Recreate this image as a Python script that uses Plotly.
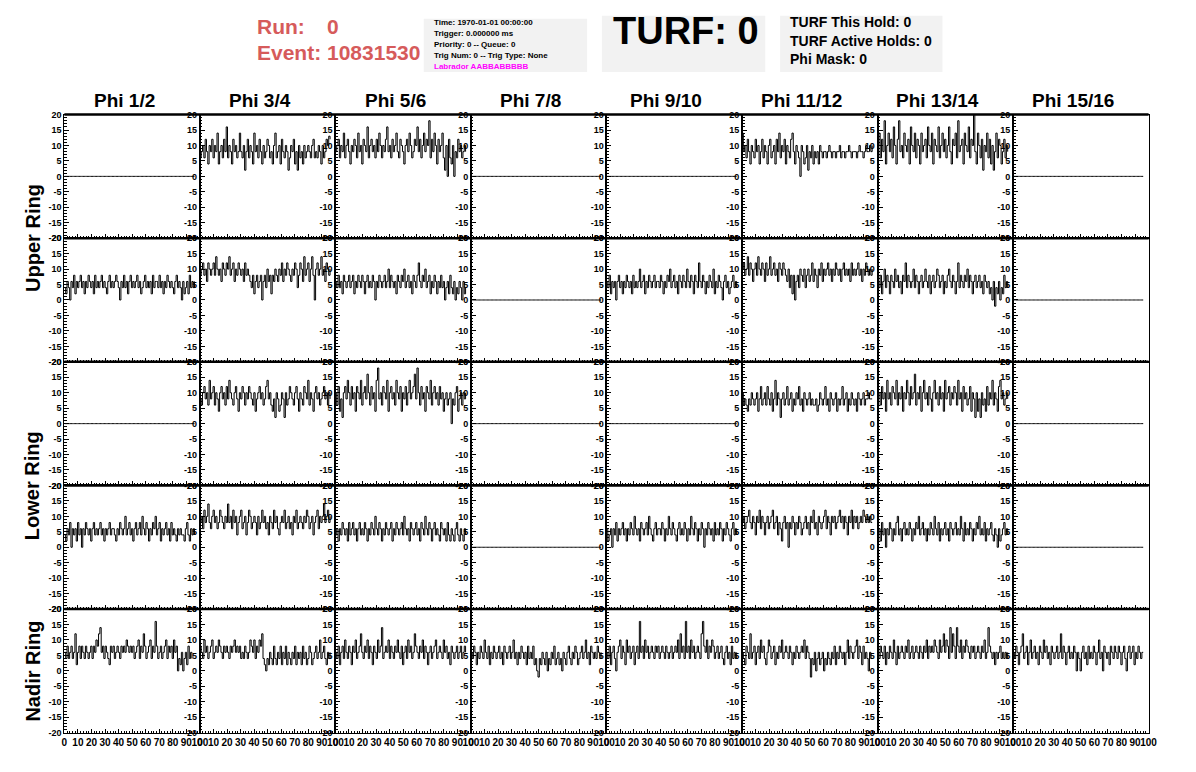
import plotly.graph_objects as go

W, H = 1196, 772

# ---------------- labels ----------------
phi_labels = ["Phi 1/2", "Phi 3/4", "Phi 5/6", "Phi 7/8",
              "Phi 9/10", "Phi 11/12", "Phi 13/14", "Phi 15/16"]
ring_labels = ["Upper Ring", "Lower Ring", "Nadir Ring"]
run_text = "Run:"
run_value = "0"
event_text = "Event: 10831530"
info_lines = ["Time: 1970-01-01 00:00:00", "Trigger: 0.000000 ms",
              "Priority: 0 -- Queue: 0", "Trig Num: 0 -- Trig Type: None"]
labrador_line = "Labrador AABBABBBBB"
turf_text = "TURF: 0"
turf_lines = ["TURF This Hold: 0", "TURF Active Holds: 0", "Phi Mask: 0"]

y_tick_values = [-20, -15, -10, -5, 0, 5, 10, 15, 20]
x_tick_values = [0, 10, 20, 30, 40, 50, 60, 70, 80, 90, 100]

sample_period = 0.97   # ns per sample (x axis 0-100)

# ---------------- waveforms (mV) ----------------
flat = [0] * 100

u1_p34 = [6,8,10,6,12,8,4,10,8,12,6,10,8,14,4,8,10,6,12,8,16,6,10,8,4,12,8,10,6,8,14,8,6,10,2,8,12,6,10,8,4,14,8,10,6,12,8,4,10,6,8,12,10,6,8,4,10,14,6,8,10,4,12,8,6,10,8,2,6,10,8,12,4,8,2,10,6,8,4,10,6,8,10,8,6,10,12,6,8,6,10,8,4,10,6,8,12,10,13,12]
u1_p56 = [8,10,12,6,10,8,14,6,10,12,8,4,10,8,12,10,6,14,8,10,4,12,10,8,16,6,10,12,8,10,6,12,8,14,10,6,10,8,12,16,8,10,6,12,8,10,14,8,6,12,10,8,4,10,12,8,14,10,6,8,12,10,16,8,12,6,10,14,8,12,10,18,6,12,8,14,10,4,12,8,10,14,6,2,10,0,12,6,4,10,0,8,6,12,8,10,6,8,10,8]
u1_p1112 = [14,8,10,6,12,8,4,10,8,6,12,8,10,4,8,12,6,10,8,4,10,12,6,8,10,4,12,8,14,6,10,8,12,4,10,8,6,12,14,8,4,10,8,6,0,10,8,4,6,10,2,8,6,10,4,8,6,8,4,10,8,6,8,8,6,8,10,8,6,8,8,6,8,8,10,6,8,8,6,8,8,10,8,6,8,8,8,6,8,10,8,8,6,8,10,8,8,10,8,10]
u1_p1314 = [10,14,6,12,8,18,4,10,14,8,12,6,16,10,4,12,18,8,10,6,14,10,8,12,4,16,10,8,14,6,12,10,4,14,8,10,12,6,16,10,8,14,4,12,10,8,16,6,10,14,8,12,6,10,16,8,4,12,10,14,6,18,8,10,12,4,14,10,8,16,6,12,10,20,8,4,14,10,6,12,2,10,8,14,6,12,4,10,2,8,14,6,12,10,4,8,12,6,10,8]

u2_p12 = [4,2,6,4,0,6,4,8,2,6,4,6,8,4,6,2,6,4,8,6,4,6,2,8,4,6,4,6,8,4,6,4,2,6,8,4,6,4,6,8,6,4,0,6,4,8,4,6,2,6,8,4,6,4,6,8,4,6,2,4,6,8,4,6,4,6,2,8,4,6,6,4,8,4,6,2,6,4,8,6,4,6,4,2,6,8,4,6,4,0,6,2,4,6,2,8,4,6,4,6]
u2_p34 = [8,10,12,8,10,6,12,10,8,10,12,8,14,10,8,10,6,12,10,8,12,10,14,8,10,12,6,10,8,12,10,8,10,6,12,8,10,8,6,4,8,2,6,8,4,6,8,0,6,8,4,10,6,8,2,8,6,10,8,6,10,8,12,6,10,8,12,10,8,6,10,8,12,10,4,8,12,10,6,14,8,10,12,6,10,14,8,0,10,12,8,10,14,8,10,6,12,10,8,10]
u2_p56 = [6,4,8,4,6,2,8,6,4,6,8,4,6,8,2,6,4,8,6,4,8,6,2,6,8,4,6,4,8,6,0,6,4,8,6,4,6,8,4,6,10,4,8,6,4,6,2,8,6,4,8,6,10,4,6,8,4,6,2,8,6,4,8,12,6,4,8,6,10,4,6,8,2,6,4,8,6,2,6,4,8,4,6,0,4,6,2,8,4,2,6,0,4,2,6,4,0,6,2,4]
u2_p910 = [6,4,8,2,6,4,6,0,6,8,4,6,2,6,4,8,6,4,6,2,8,4,6,4,6,10,4,6,8,2,6,4,8,6,4,6,8,4,6,6,4,8,6,2,6,4,8,6,10,4,6,8,4,6,2,8,6,4,8,6,4,10,6,4,8,6,2,8,6,4,12,6,4,8,6,2,6,4,8,6,4,10,2,6,4,8,6,4,0,6,8,4,6,2,4,6,8,4,6,4]
u2_p1112 = [10,12,8,10,14,8,12,10,6,10,12,8,14,10,8,12,10,6,12,8,10,14,8,10,12,8,10,6,12,10,8,12,10,8,6,10,4,8,2,8,0,6,8,4,10,8,6,10,4,8,10,6,8,12,6,10,8,4,10,8,12,6,10,8,10,12,8,10,6,10,8,12,10,8,10,6,10,12,8,10,8,10,6,12,8,10,8,10,12,8,10,6,10,8,12,10,8,10,8,10]
u2_p1314 = [6,4,8,2,6,10,4,8,6,2,8,6,4,10,6,8,4,6,2,8,6,12,4,8,6,4,6,10,4,8,6,2,6,8,4,6,10,6,4,8,2,6,8,4,6,10,8,4,6,8,2,6,4,8,10,6,4,8,6,2,6,12,4,8,6,4,8,6,10,4,8,6,2,6,8,4,6,8,4,6,2,8,6,4,6,2,4,0,6,-2,4,2,6,0,4,2,8,4,6,4]

l1_p34 = [8,6,10,12,8,10,6,14,8,10,12,6,10,8,4,10,12,8,10,6,12,8,14,10,8,6,10,12,8,4,10,8,12,10,6,10,8,12,10,8,6,10,4,8,10,12,8,10,6,8,12,14,8,10,6,4,8,2,10,8,4,6,10,8,2,10,6,8,12,10,8,6,10,12,8,4,10,8,6,12,10,8,14,6,10,8,4,10,12,8,10,6,8,10,12,8,10,6,10,8]
l1_p56 = [10,6,12,4,8,2,10,12,8,14,10,6,12,8,10,4,12,10,8,14,6,10,12,8,16,10,6,12,8,10,4,14,18,8,10,6,12,10,8,14,4,10,12,8,10,6,14,10,8,12,4,10,8,12,6,10,14,8,10,12,16,8,18,10,6,12,8,10,4,12,10,8,14,6,10,12,8,10,6,12,8,10,4,8,10,6,8,10,0,8,6,10,12,4,8,10,6,10,8,10]
l1_p1112 = [10,6,8,6,4,8,6,10,8,6,8,10,4,8,12,6,8,10,6,12,8,6,10,4,8,14,6,10,8,2,8,10,6,8,12,6,8,10,4,8,6,10,8,12,6,8,4,10,8,6,8,10,6,8,6,6,8,4,6,10,8,6,8,12,6,8,4,10,8,6,8,10,4,8,6,8,12,6,8,10,4,8,6,10,8,6,8,4,10,8,6,8,10,6,8,8,10,8,8,8]
l1_p1314 = [8,10,6,12,8,10,4,14,8,10,6,12,10,8,14,6,10,8,12,4,10,8,14,10,6,12,8,10,16,6,10,8,12,4,10,14,8,10,6,12,8,4,10,14,8,10,6,12,8,10,4,14,8,10,12,6,10,8,12,10,6,14,8,10,4,12,8,10,6,8,12,4,10,8,2,10,4,8,2,10,6,8,4,12,6,10,8,14,6,10,8,4,12,14,8,10,6,8,10,8]

l2_p12 = [4,2,6,4,8,0,6,4,6,2,8,4,6,0,6,4,8,6,4,6,2,6,8,4,6,4,6,8,4,6,2,6,4,6,8,4,6,6,4,2,6,4,8,6,4,6,10,4,6,8,4,6,2,6,8,4,6,8,4,10,6,4,8,6,2,6,4,8,6,10,4,6,8,2,6,4,6,8,4,6,2,8,4,6,4,2,6,4,6,4,4,2,6,8,4,2,6,4,6,4]
l2_p34 = [8,10,6,12,8,10,14,8,6,10,12,8,10,6,8,12,10,8,6,10,8,14,8,10,6,12,8,10,4,8,10,12,6,8,10,4,8,12,10,6,8,10,8,4,10,6,8,12,8,10,6,8,4,10,8,6,12,8,10,6,4,8,10,8,12,6,8,10,6,8,4,10,8,12,6,8,10,8,6,10,8,12,10,6,8,10,4,8,10,12,6,10,8,10,14,8,10,12,8,10]
l2_p56 = [4,6,2,6,4,8,6,4,6,2,8,4,6,8,4,6,2,6,8,4,6,4,8,6,2,6,4,8,6,4,10,6,4,8,6,2,6,4,8,6,4,6,8,2,6,4,8,6,4,6,8,4,10,6,4,6,2,8,6,4,6,8,4,6,2,8,6,4,10,6,4,8,6,2,6,8,4,6,4,2,8,6,4,6,2,8,4,2,6,4,2,6,8,4,2,6,4,2,6,4]
l2_p910 = [6,2,4,6,0,6,4,8,2,6,4,6,8,4,6,2,6,4,8,6,4,10,6,4,6,2,8,6,4,6,8,4,10,6,4,2,6,8,4,6,6,4,8,6,2,6,4,10,6,4,8,6,4,2,6,8,4,6,4,8,6,2,6,4,10,6,4,8,6,2,6,4,8,6,0,6,4,8,6,4,6,2,8,4,6,4,8,6,2,6,4,8,6,4,2,6,8,4,6,4]
l2_p1112 = [8,10,6,8,10,12,8,6,10,8,4,10,8,12,6,10,8,4,8,10,6,8,10,12,6,8,10,4,8,6,2,8,10,6,8,0,8,6,10,8,4,8,6,10,8,4,6,8,10,6,8,4,10,8,12,6,8,4,10,8,6,8,10,12,6,10,8,4,10,8,10,6,8,10,12,8,10,6,10,8,4,10,8,12,6,10,8,10,6,8,10,8,12,10,8,10,8,10,8,8]
l2_p1314 = [4,6,2,8,4,6,0,6,4,8,6,2,6,4,8,10,4,6,2,6,8,4,6,4,8,6,2,6,4,8,6,10,4,6,8,4,6,2,6,4,8,6,4,10,6,4,8,2,6,4,6,8,4,6,2,8,6,4,6,8,4,6,4,10,6,2,8,4,6,4,8,6,2,6,4,8,6,10,4,6,4,8,2,6,4,6,8,4,2,6,4,0,6,2,4,6,8,4,6,4]

n_p12 = [6,4,8,4,6,8,4,6,12,2,6,8,4,8,6,4,8,6,4,6,8,4,8,6,10,8,12,14,6,8,4,8,6,4,2,8,6,8,4,6,8,6,4,8,6,8,6,10,8,6,8,6,8,4,6,8,10,4,8,6,12,8,4,6,8,10,4,8,6,16,8,4,6,8,4,6,8,10,4,8,6,8,4,10,6,8,0,4,2,6,0,4,6,2,8,4,6,4]
n_p34 = [8,6,4,10,6,8,4,6,8,10,4,6,8,6,10,8,6,4,8,6,8,6,4,8,6,8,10,6,8,6,8,4,6,4,8,6,4,6,10,8,6,10,4,8,6,10,8,12,4,2,0,4,2,6,4,2,8,4,2,6,4,8,2,6,4,8,2,6,4,2,6,4,8,2,6,4,6,2,8,4,6,2,4,8,6,2,4,6,8,4,6,10,4,6,8,4,2,6,4,6]
n_p56 = [6,4,8,2,6,8,4,10,6,4,8,6,2,8,6,10,4,6,8,12,6,4,8,6,10,4,8,6,2,8,6,4,10,6,8,14,4,6,8,6,10,4,8,6,4,8,6,10,6,4,8,2,6,8,4,10,6,8,4,6,12,8,6,4,8,6,10,4,8,6,2,6,8,4,6,8,10,4,6,8,6,4,10,6,8,4,6,2,8,6,4,6,8,4,6,8,4,6,8,6]
n_p78 = [6,4,8,6,2,6,4,8,6,4,10,6,4,8,2,6,4,8,6,4,6,8,4,6,2,8,6,4,6,8,4,6,10,4,6,2,6,4,8,6,4,6,2,8,4,6,4,8,2,4,0,-2,4,2,6,4,2,6,0,4,2,6,4,8,2,4,6,2,4,0,6,4,2,6,8,4,2,6,4,8,6,2,4,6,8,4,6,10,4,6,2,8,6,4,6,4,8,6,4,6]
n_p910 = [6,4,8,2,6,8,4,0,6,8,10,4,8,6,2,10,6,8,4,6,8,2,6,8,4,16,6,8,4,10,6,8,4,6,8,6,4,8,6,8,4,6,8,6,4,8,6,4,6,8,4,6,8,6,10,4,12,6,8,4,16,6,8,4,10,6,8,4,6,8,6,4,12,16,8,6,10,4,8,6,10,8,4,6,8,4,6,8,4,2,6,8,4,6,2,8,4,6,4,6]
n_p1112 = [6,4,2,8,6,4,12,4,6,8,2,6,8,4,10,6,8,4,2,6,10,8,4,6,8,2,6,4,8,6,10,4,6,8,6,4,8,6,2,6,4,8,6,4,6,8,6,10,4,8,6,4,-2,4,2,6,0,4,6,2,4,6,0,4,2,6,4,2,6,4,8,2,6,4,8,6,4,6,2,6,10,4,8,6,4,6,8,10,4,8,6,2,8,4,6,4,0,6,4,4]
n_p1314 = [6,4,8,6,4,8,2,6,4,8,6,4,10,6,2,8,4,6,8,6,4,8,6,10,4,6,8,4,6,8,6,4,8,6,4,8,6,10,4,8,6,8,6,10,8,6,4,10,6,8,12,6,10,8,4,14,6,12,8,4,14,8,6,10,4,8,6,10,8,6,4,8,6,8,4,6,8,6,4,8,6,10,4,6,14,8,6,4,6,2,6,4,6,8,4,6,4,6,4,6]
n_p1516 = [6,4,8,6,2,6,8,12,4,6,8,2,6,10,4,6,8,4,6,2,8,6,4,10,6,8,4,6,2,8,6,4,6,8,4,6,12,4,8,6,2,6,8,4,6,4,8,6,0,6,4,0,6,8,4,6,2,8,4,6,4,8,6,2,6,10,4,6,0,8,6,4,6,2,8,6,4,8,6,4,8,6,2,6,8,4,0,6,8,4,6,8,2,6,4,8,6,4,6,6]

grid = [
    [flat, u1_p34, u1_p56, flat, flat, u1_p1112, u1_p1314, flat],
    [u2_p12, u2_p34, u2_p56, flat, u2_p910, u2_p1112, u2_p1314, flat],
    [flat, l1_p34, l1_p56, flat, flat, l1_p1112, l1_p1314, flat],
    [l2_p12, l2_p34, l2_p56, flat, l2_p910, l2_p1112, l2_p1314, flat],
    [n_p12, n_p34, n_p56, n_p78, n_p910, n_p1112, n_p1314, n_p1516],
]

# ---------------- layout geometry (pixels) ----------------
COL_LEFT, COL_W = 62, 136.9
ROW_TOP, ROW_H = 111, 125.25
FONT = "Liberation Sans, Arial, Helvetica, sans-serif"


def px(x):
    return x / W


def py(y):
    return 1 - y / H


y_minor = list(range(-20, 21))
x_minor = list(range(0, 101, 2))

fig = go.Figure()
axes = {}
for r in range(5):
    for c in range(8):
        k = r * 8 + c + 1
        wave = grid[r][c]
        t = [i * sample_period for i in range(len(wave))]
        fig.add_trace(go.Scatter(
            x=t, y=wave, xaxis=f"x{k}", yaxis=f"y{k}", mode="lines",
            line=dict(color="black", width=1, shape="hv"),
            showlegend=False, hoverinfo="skip"))
        x0 = COL_LEFT + c * COL_W
        x1 = x0 + COL_W
        y0 = ROW_TOP + r * ROW_H
        y1 = y0 + ROW_H
        sfx = "" if k == 1 else str(k)
        axes[f"xaxis{sfx}"] = dict(
            domain=[px(x0), px(x1)], range=[0, 100], anchor=f"y{k}",
            showgrid=False, zeroline=False, showline=True, mirror=True,
            linecolor="black", linewidth=1,
            ticks="inside", ticklen=4, tickwidth=1, tickcolor="black",
            tickmode="array", tickvals=x_tick_values,
            ticktext=[str(v) for v in x_tick_values], tickangle=0,
            showticklabels=(r == 4),
            tickfont=dict(family=FONT, size=10, color="black", weight="bold"),
            minor=dict(tickmode="array", tickvals=x_minor, ticks="inside",
                       ticklen=2, tickcolor="black"),
            fixedrange=True)
        axes[f"yaxis{sfx}"] = dict(
            domain=[py(y1), py(y0)], range=[-20, 20], anchor=f"x{k}",
            showgrid=False, zeroline=False, showline=True, mirror=True,
            linecolor="black", linewidth=1,
            ticks="inside", ticklen=5, tickwidth=1, tickcolor="black",
            tickmode="array", tickvals=y_tick_values,
            ticktext=[str(v) for v in y_tick_values],
            tickfont=dict(family=FONT, size=9, color="black", weight="bold"),
            minor=dict(tickmode="array", tickvals=y_minor, ticks="inside",
                       ticklen=2.5, tickcolor="black"),
            fixedrange=True)
fig.update_layout(**axes)

shapes = []
# thick line along top of each ring row
for r in range(5):
    yy = py(ROW_TOP + r * ROW_H)
    shapes.append(dict(type="line", xref="paper", yref="paper",
                       x0=px(COL_LEFT), x1=px(COL_LEFT + 8 * COL_W), y0=yy, y1=yy,
                       line=dict(color="black", width=2.5)))
# header boxes
for (bx0, bx1, by0, by1) in [(425, 590, 14, 68), (605, 770, 11, 68), (785, 949, 11, 68)]:
    shapes.append(dict(type="rect", xref="paper", yref="paper",
                       x0=px(bx0), x1=px(bx1), y0=py(by1), y1=py(by0),
                       fillcolor="#f2f2f2", line=dict(width=0), layer="below"))

ann = []


def text(s, x, y, size, color="black", xanchor="left", angle=0):
    ann.append(dict(text=s, x=px(x), y=py(y), xref="paper", yref="paper",
                    xanchor=xanchor, yanchor="middle", showarrow=False,
                    textangle=angle,
                    font=dict(family=FONT, size=size, color=color, weight="bold")))


for c, lab in enumerate(phi_labels):
    text(lab, COL_LEFT + c * COL_W + COL_W / 2 - 8, 97, 19, xanchor="center")

text(ring_labels[0], 30, ROW_TOP + ROW_H, 20, xanchor="center", angle=-90)
text(ring_labels[1], 30, ROW_TOP + 3 * ROW_H, 20, xanchor="center", angle=-90)
text(ring_labels[2], 30, ROW_TOP + 4.5 * ROW_H, 20, xanchor="center", angle=-90)

RED = "#d65b5b"
text(run_text, 255, 22, 21, RED)
text(run_value, 325, 22, 21, RED)
text(event_text, 255, 48, 21, RED)

for i, line in enumerate(info_lines):
    text(line, 433, 17.5 + i * 11.3, 8)
text(labrador_line, 433, 62, 8, "#ff00ff")

text(turf_text, 690, 26, 38, xanchor="center")
for i, line in enumerate(turf_lines):
    text(line, 793, 17 + i * 19, 14)

fig.update_layout(
    width=W, height=H, autosize=False,
    margin=dict(l=0, r=0, t=0, b=0, pad=0),
    paper_bgcolor="white", plot_bgcolor="white",
    showlegend=False, shapes=shapes, annotations=ann,
    font=dict(family=FONT, color="black"))

fig.write_html(
    "out.html",
    config=dict(displayModeBar=False, staticPlot=True),
    post_script="document.body.style.margin='0';document.body.style.padding='0';"
                "document.documentElement.style.overflow='hidden';")
